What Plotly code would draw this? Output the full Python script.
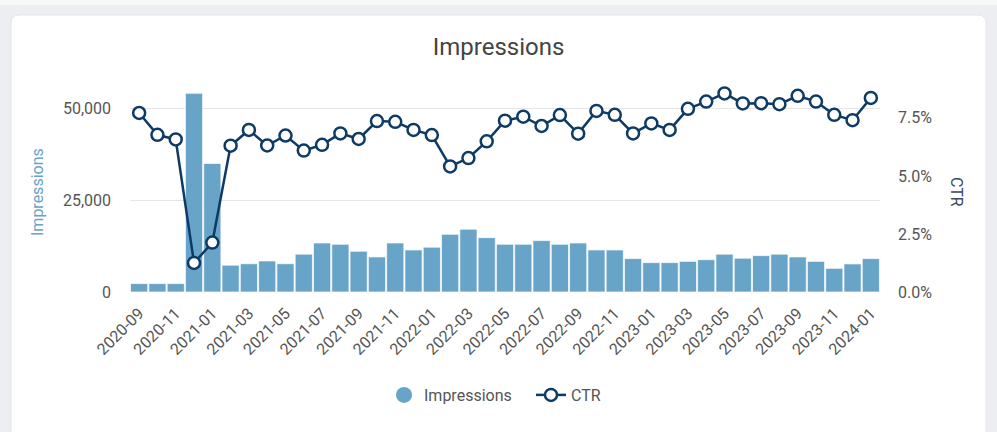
import plotly.graph_objects as go

months = ["2020-09","2020-10","2020-11","2020-12","2021-01","2021-02","2021-03","2021-04","2021-05","2021-06",
          "2021-07","2021-08","2021-09","2021-10","2021-11","2021-12","2022-01","2022-02","2022-03","2022-04",
          "2022-05","2022-06","2022-07","2022-08","2022-09","2022-10","2022-11","2022-12","2023-01","2023-02",
          "2023-03","2023-04","2023-05","2023-06","2023-07","2023-08","2023-09","2023-10","2023-11","2023-12",
          "2024-01"]
impressions = [2300, 2300, 2300, 54100, 35000, 7300, 7700, 8450, 7700, 10300,
               13350, 13000, 11100, 9550, 13350, 11450, 12200, 15700, 17100, 14800,
               13000, 13000, 14000, 13000, 13350, 11450, 11450, 9100, 8000, 8000,
               8350, 8800, 10300, 9200, 9900, 10300, 9550, 8350, 6450, 7650,
               9100]
ctr = [7.71, 6.77, 6.57, 1.25, 2.13, 6.30, 6.98, 6.31, 6.74, 6.09,
       6.34, 6.83, 6.59, 7.36, 7.33, 6.98, 6.76, 5.41, 5.77, 6.49,
       7.38, 7.55, 7.15, 7.62, 6.82, 7.80, 7.63, 6.83, 7.26, 6.98,
       7.89, 8.20, 8.55, 8.12, 8.13, 8.09, 8.45, 8.20, 7.63, 7.40,
       8.36]
tick_labels = months[::2]
left_ticks = [0, 25000, 50000]
right_ticks = [0, 2.5, 5.0, 7.5]
right_tick_text = ["0.0%", "2.5%", "5.0%", "7.5%"]

W, H = 997, 432
L, R, T, B = 130, 117, 90, 140
PW, PH = W - L - R, H - T - B

def xp(px):
    return (px - L) / PW

def yp(py):
    return (H - B - py) / PH

BAR = "#68a4c8"
NAVY = "#0e3a66"
FONT = "Roboto"
TXT = "#555555"

fig = go.Figure()
fig.add_trace(go.Bar(x=months, y=impressions, name="Impressions", marker_color=BAR,
                     marker_line_color="rgba(255,255,255,0.7)", marker_line_width=1,
                     showlegend=False))
fig.add_trace(go.Scatter(x=[None], y=[None], mode="markers", name="Impressions",
                         marker=dict(symbol="circle", size=18, color=BAR)))
fig.add_trace(go.Scatter(x=months, y=ctr, name="CTR", yaxis="y2", mode="lines+markers",
                         cliponaxis=False,
                         line=dict(color=NAVY, width=2.5),
                         marker=dict(symbol="circle", size=12, color="white",
                                     line=dict(color=NAVY, width=2.5))))

# card background
x0, x1 = xp(11), xp(986)
y0, y1 = yp(440), yp(15)
rx, ry = 8 / PW, 8 / PH
path = (f"M {x0+rx},{y1} L {x1-rx},{y1} Q {x1},{y1} {x1},{y1-ry} "
        f"L {x1},{y0+ry} Q {x1},{y0} {x1-rx},{y0} L {x0+rx},{y0} "
        f"Q {x0},{y0} {x0},{y0+ry} L {x0},{y1-ry} Q {x0},{y1} {x0+rx},{y1} Z")
shapes = [
    dict(type="rect", xref="paper", yref="paper", x0=xp(-5), x1=xp(1005), y0=yp(5), y1=yp(-5),
         fillcolor="#f7f7f8", line_width=0, layer="below"),
    dict(type="path", xref="paper", yref="paper", path=path, fillcolor="white",
         line=dict(color="#e3e5e8", width=1), layer="below"),
]

fig.update_layout(
    width=W, height=H,
    margin=dict(l=L, r=R, t=T, b=B),
    paper_bgcolor="#eceef1",
    plot_bgcolor="rgba(0,0,0,0)",
    font=dict(family=FONT, color=TXT, size=16),
    title=dict(text="Impressions", x=0.5, xref="container", y=1 - 47 / H, yref="container",
               xanchor="center", yanchor="middle", font=dict(size=24, color="#444444", family=FONT)),
    bargap=0.06,
    shapes=shapes,
    showlegend=True,
    legend=dict(orientation="h", xref="container", yref="container", x=384 / W, y=1 - 395 / H,
                xanchor="left", yanchor="middle", font=dict(size=16, color=TXT),
                bgcolor="rgba(0,0,0,0)", itemwidth=30, entrywidth=102),
    xaxis=dict(type="category", categoryorder="array", categoryarray=months,
               range=[-0.5, len(months) - 0.5], tickmode="array", tickvals=tick_labels,
               ticktext=tick_labels, tickangle=-45, showgrid=False, zeroline=False,
               showline=False, ticks="", ticklabelstandoff=8, tickfont=dict(size=16, color=TXT)),
    yaxis=dict(range=[0, 55000], tickvals=left_ticks, tickformat=",", showgrid=True,
               gridcolor="#e6e6e6", gridwidth=1, zeroline=False, showline=False,
               ticklabelstandoff=18, tickfont=dict(size=16, color=TXT)),
    yaxis2=dict(range=[0, 8.7], overlaying="y", side="right", tickmode="array",
                tickvals=right_ticks, ticktext=right_tick_text, showgrid=False,
                zeroline=False, showline=False,
                ticklabelstandoff=17, tickfont=dict(size=16, color=TXT)),
    annotations=[
        dict(text="Impressions", xref="paper", yref="paper", x=xp(37), y=yp(192),
             xanchor="center", yanchor="middle",
             showarrow=False, textangle=-90, font=dict(size=16, color="#6aa3c8", family=FONT)),
        dict(text="CTR", xref="paper", yref="paper", x=xp(957), y=yp(192),
             xanchor="center", yanchor="middle",
             showarrow=False, textangle=90, font=dict(size=16, color="#3a4a5e", family=FONT)),
    ],
)

fig.write_html("out.html", config={"displayModeBar": False},
               post_script="document.body.style.margin='0';document.body.style.padding='0';")
